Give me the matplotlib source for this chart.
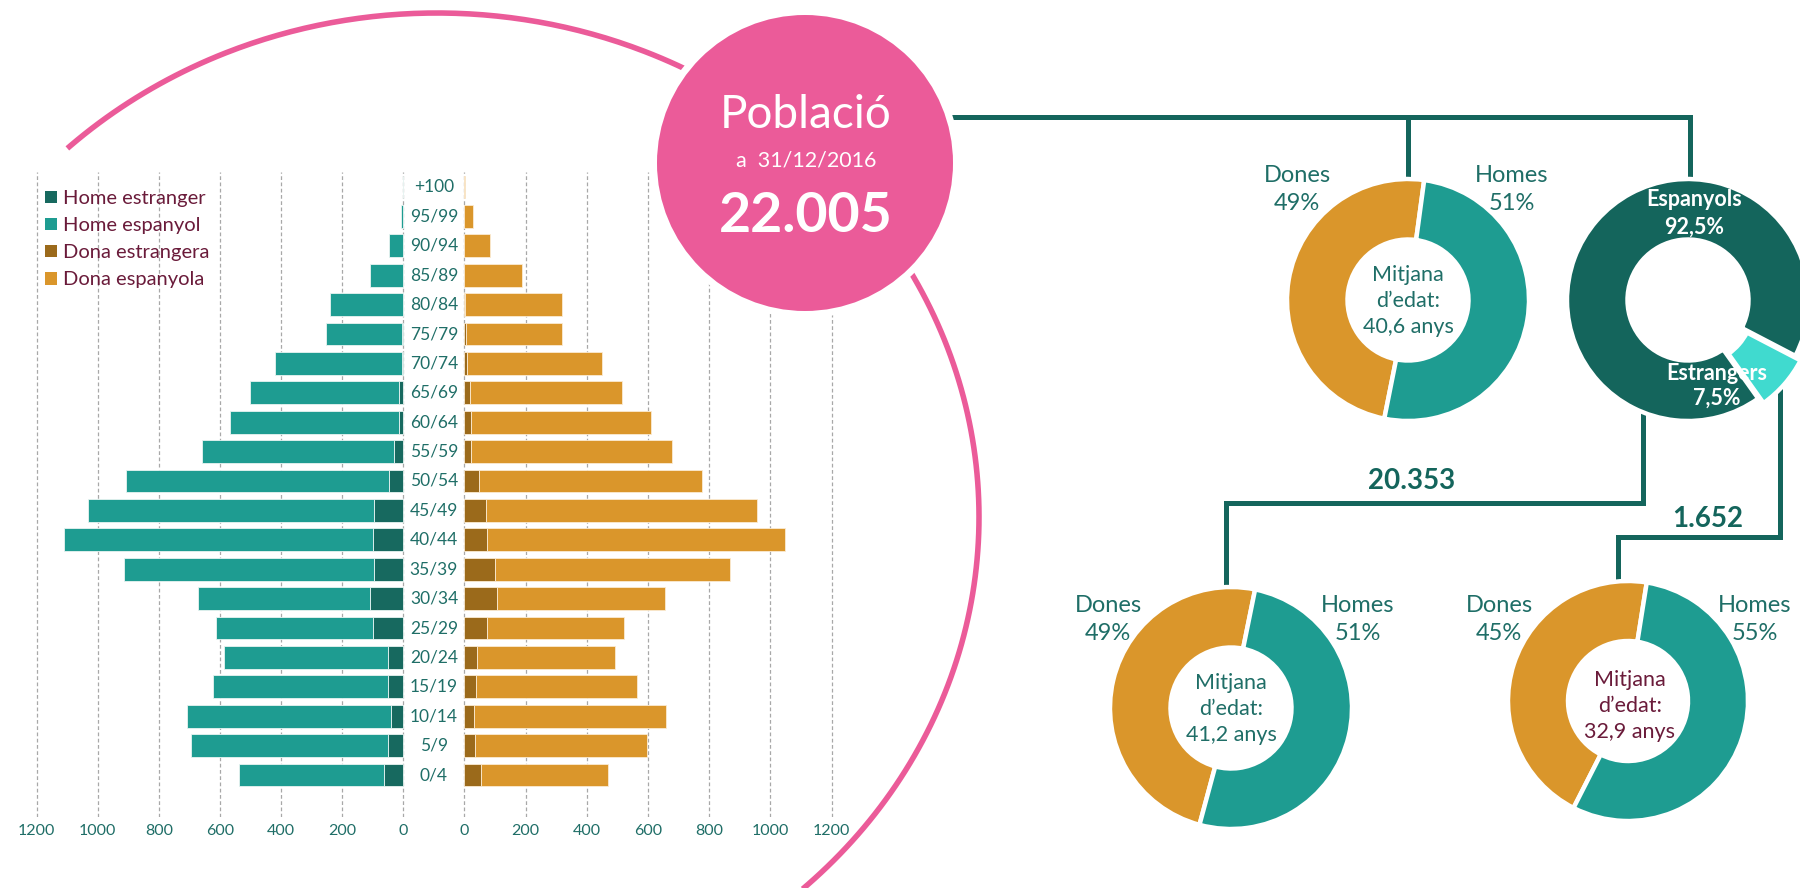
import numpy as np
import matplotlib
matplotlib.use('Agg')
import matplotlib.pyplot as plt
from matplotlib.patches import Patch, Circle
import matplotlib.transforms as mtransforms

plt.rcParams['font.family'] = ['Lato', 'DejaVu Sans']

# ---------------- data ----------------
age_groups = ['0/4', '5/9', '10/14', '15/19', '20/24', '25/29', '30/34', '35/39',
              '40/44', '45/49', '50/54', '55/59', '60/64', '65/69', '70/74',
              '75/79', '80/84', '85/89', '90/94', '95/99', '+100']
home_estranger = [63, 50, 39, 50, 49, 99, 109, 96, 99, 96, 46, 29, 14, 12, 2, 4, 0, 0, 0, 0, 0]
home_espanyol = [473, 646, 668, 574, 538, 513, 562, 819, 1010, 937, 863, 630, 552, 489,
                 417, 247, 239, 108, 45, 7, 0]
dona_estrangera = [55, 36, 31, 38, 41, 74, 107, 100, 74, 71, 48, 23, 23, 20, 9, 5, 1, 0, 0, 0, 0]
dona_espanyola = [415, 561, 628, 526, 452, 446, 549, 769, 974, 886, 727, 655, 587, 496,
                  440, 314, 319, 190, 84, 29, 3]
axis_ticks = [0, 200, 400, 600, 800, 1000, 1200]
legend_labels = ['Home estranger', 'Home espanyol', 'Dona estrangera', 'Dona espanyola']

title_word = 'Població'
date_label = 'a  31/12/2016'
total_pop = '22.005'

sex_labels = ['Dones', 'Homes']
sex_total = [49, 51]
sex_espanyols = [49, 51]
sex_estrangers = [45, 55]
nat_labels = ['Espanyols', 'Estrangers']
nat_share = [92.5, 7.5]
nat_counts = ['20.353', '1.652']
mean_age = ['40,6', '41,2', '32,9']

# ---------------- style ----------------
W, H = 1800, 888
C_HEST = '#17695F'
C_HESP = '#1E9C91'
C_DEST = '#9B6A1B'
C_DESP = '#DA962B'
PINK = '#EB5B99'
DARK = '#14655C'
TURQ = '#40DACF'
TXT = '#1F6E67'
MAROON = '#6A1B3A'

fig = plt.figure(figsize=(W / 100, H / 100), dpi=100)
fig.patch.set_facecolor('white')


def pct(v):
    s = ('%.1f' % v).rstrip('0').rstrip('.')
    return s.replace('.', ',') + '%'


# ---------------- population pyramid ----------------
row0_px, row_step = 775.0, 29.4
ax_top, ax_bot = 172.0, 817.0
ylo = -(ax_bot - row0_px) / row_step
yhi = 20 + (row0_px - 20 * row_step - ax_top) / row_step
y = np.arange(len(age_groups))

sL = (403.0 - 36.7) / 1200.0
sR = (831.7 - 464.3) / 1200.0
pad_v = 12
axL = fig.add_axes([(403.0 - sL * (1200 + pad_v)) / W, 1 - ax_bot / H,
                    sL * (1200 + 2 * pad_v) / W, (ax_bot - ax_top) / H])
axR = fig.add_axes([(464.3 - sR * pad_v) / W, 1 - ax_bot / H,
                    sR * (1200 + 2 * pad_v) / W, (ax_bot - ax_top) / H])
axL.set_xlim(1200 + pad_v, -pad_v)
axR.set_xlim(-pad_v, 1200 + pad_v)

bh = 0.77
axL.barh(y, home_estranger, height=bh, color=C_HEST, edgecolor='#E8F4F2', linewidth=0.6, zorder=3)
axL.barh(y, home_espanyol, left=home_estranger, height=bh, color=C_HESP,
         edgecolor='#E8F4F2', linewidth=0.6, zorder=3)
axR.barh(y, dona_estrangera, height=bh, color=C_DEST, edgecolor='#FBEBD3', linewidth=0.6, zorder=3)
axR.barh(y, dona_espanyola, left=dona_estrangera, height=bh, color=C_DESP,
         edgecolor='#FBEBD3', linewidth=0.6, zorder=3)

for ax in (axL, axR):
    ax.set_ylim(ylo, yhi)
    ax.set_yticks([])
    ax.set_xticks(axis_ticks)
    ax.set_xticklabels([str(t) for t in axis_ticks])
    ax.tick_params(axis='x', length=0, pad=5, labelsize=11.5, labelcolor=TXT)
    for sp in ax.spines.values():
        sp.set_visible(False)
    ax.grid(axis='x', linestyle=(0, (3, 2)), color='#A8A8A8', linewidth=0.9, zorder=0)
    ax.set_axisbelow(True)
    ax.patch.set_visible(False)

trans_lab = mtransforms.blended_transform_factory(fig.transFigure, axR.transData)
for i, lab in enumerate(age_groups):
    axR.text(434 / W, i, lab, transform=trans_lab, ha='center', va='center',
             fontsize=12.5, color=TXT, clip_on=False)

handles = [Patch(facecolor=c, edgecolor='none') for c in (C_HEST, C_HESP, C_DEST, C_DESP)]
leg = axL.legend(handles, legend_labels, loc='upper left',
                 bbox_to_anchor=(45 / W, 1 - 190 / H), bbox_transform=fig.transFigure,
                 frameon=False, fontsize=14.5, handlelength=0.6, handleheight=0.6,
                 handletextpad=0.3, labelspacing=0.5, borderpad=0, borderaxespad=0)
for t in leg.get_texts():
    t.set_color(MAROON)

# ---------------- overlay (pixel coordinates, y measured from top) ----------------
ov = fig.add_axes([0, 0, 1, 1])
ov.patch.set_visible(False)


def Y(v):
    return H - v


# pink decorative arc
t = np.deg2rad(np.linspace(-62, 133, 400))
ov.plot(437 + 542 * np.cos(t), Y(517) + 504 * np.sin(t), color=PINK, lw=4.0,
        solid_capstyle='butt', zorder=1)

# tree connector lines
lw_tree = 3.6
ov.plot([820, 1690, 1690], [Y(117), Y(117), Y(185)], color=DARK, lw=lw_tree, zorder=1,
        solid_joinstyle='miter')
ov.plot([1408, 1408], [Y(117), Y(185)], color=DARK, lw=lw_tree, zorder=1)
ov.plot([1643, 1643, 1226, 1226], [Y(410), Y(503), Y(503), Y(595)], color=DARK,
        lw=lw_tree, zorder=1, solid_joinstyle='miter')
ov.plot([1780, 1780, 1618, 1618], [Y(390), Y(537), Y(537), Y(588)], color=DARK,
        lw=lw_tree, zorder=1, solid_joinstyle='miter')

# pink circle with white halo
ov.add_patch(Circle((805, Y(163)), 155, facecolor='white', edgecolor='none', zorder=2))
ov.add_patch(Circle((805, Y(163)), 148, facecolor=PINK, edgecolor='none', zorder=3))
ov.text(806, Y(128), title_word, ha='center', va='baseline', color='white',
        fontsize=33, fontweight='normal', zorder=4)
ov.text(806, Y(166.5), date_label, ha='center', va='baseline', color='white',
        fontsize=15.5, zorder=4)
ov.text(806, Y(231.5), total_pop, ha='center', va='baseline', color='white',
        fontsize=40, fontweight='bold', zorder=4)

# donut charts
wedge_w = 0.5
edge = dict(edgecolor='white', linewidth=3.2)


def donut(vals, colors, cx, cy, r, start, explode=None):
    ov.pie(vals, colors=colors, center=(cx, Y(cy)), radius=r, startangle=start,
           counterclock=True, frame=True, explode=explode, labeldistance=None,
           wedgeprops=dict(width=r * wedge_w, zorder=3, **edge))


donut(sex_total, [C_DESP, C_HESP], 1408, 300, 121, 82.3)
donut(nat_share, [DARK, TURQ], 1688, 300, 121, -27.5, explode=[0, 7])
donut(sex_espanyols, [C_DESP, C_HESP], 1231, 708, 121, 78.5)
donut(sex_estrangers, [C_DESP, C_HESP], 1628, 701, 120, 81)


def two_line(x, y1, y2, a, b, **kw):
    ov.text(x, Y(y1), a, ha='center', va='center', zorder=5, **kw)
    ov.text(x, Y(y2), b, ha='center', va='center', zorder=5, **kw)


lab_kw = dict(fontsize=17, color=TXT)
# top pie labels
two_line(1297, 175, 204, sex_labels[0], pct(sex_total[0]), **lab_kw)
two_line(1512, 175, 204, sex_labels[1], pct(sex_total[1]), **lab_kw)
# bottom left pie labels
two_line(1108, 605, 633, sex_labels[0], pct(sex_espanyols[0]), **lab_kw)
two_line(1358, 605, 633, sex_labels[1], pct(sex_espanyols[1]), **lab_kw)
# bottom right pie labels
two_line(1499, 605, 633, sex_labels[0], pct(sex_estrangers[0]), **lab_kw)
two_line(1755, 605, 633, sex_labels[1], pct(sex_estrangers[1]), **lab_kw)

# nationality donut labels
nat_kw = dict(fontsize=15.5, color='white', fontweight='bold')
two_line(1694, 199, 227, nat_labels[0], pct(nat_share[0]), **nat_kw)
two_line(1717, 373, 398, nat_labels[1], pct(nat_share[1]), **nat_kw)

# mean age inside donuts
for (cx, ys, col, age) in [(1408, (275, 301, 327), TXT, mean_age[0]),
                           (1231, (683, 709, 735), TXT, mean_age[1]),
                           (1630, (680, 706, 732), MAROON, mean_age[2])]:
    for yy, s in zip(ys, ['Mitjana', 'd\u2019edat:', age + ' anys']):
        ov.text(cx, Y(yy), s, ha='center', va='center', fontsize=15.5, color=col, zorder=5)

# counts
ov.text(1412, Y(481), nat_counts[0], ha='center', va='center', fontsize=20,
        fontweight='bold', color=DARK, zorder=5)
ov.text(1708, Y(519), nat_counts[1], ha='center', va='center', fontsize=20,
        fontweight='bold', color=DARK, zorder=5)

ov.set_xlim(0, W)
ov.set_ylim(0, H)
ov.axis('off')

fig.savefig('out.png', dpi=100, facecolor='white')
